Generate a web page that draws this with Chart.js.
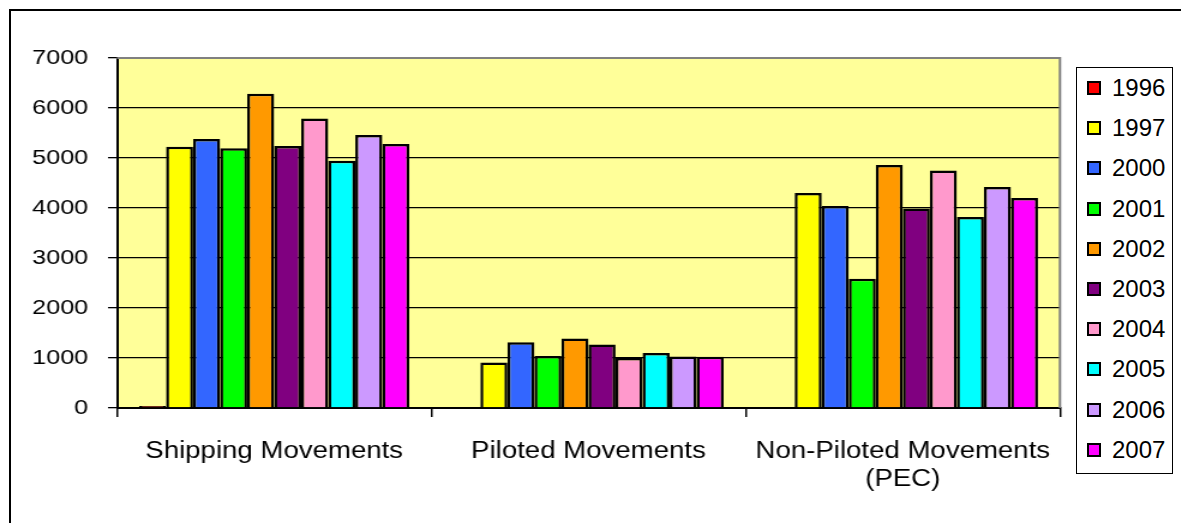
<!DOCTYPE html>
<html>
<head>
<meta charset="utf-8">
<script src="https://cdn.jsdelivr.net/npm/chart.js@4/dist/chart.umd.min.js"></script>
<style>
  body { margin: 0; background: #fff; overflow: hidden; font-family: "Liberation Sans", Arial, sans-serif; }
  #frame { position: absolute; left: 9px; top: 9px; width: 1300px; height: 700px; border: 2px solid #000; }
  #wrap { position: absolute; left: 0; top: 0; width: 984px; height: 523px; transform: scaleX(1.2); transform-origin: 0 0; }
  #legend { position: absolute; left: 1076px; top: 67px; width: 95px; height: 405px; border: 1px solid #000; background: #fff; }
  .item { position: absolute; left: 10px; height: 24px; line-height: 24px; font-size: 24px; color: #000; }
  .sw { display: inline-block; width: 10px; height: 10px; border: 2px solid #000; margin-right: 11px; vertical-align: 1px; }
</style>
</head>
<body>
<div id="frame"></div>
<div id="wrap"><canvas id="movesChart"></canvas></div>
<div id="legend"></div>
<script>
const categories = ['Shipping Movements', 'Piloted Movements', ['Non-Piloted Movements', '(PEC)']];
const years = ['1996', '1997', '2000', '2001', '2002', '2003', '2004', '2005', '2006', '2007'];
const colors = ['#ff0000', '#ffff00', '#3366ff', '#00ff00', '#ff9900', '#800080', '#ff99cc', '#00ffff', '#cc99ff', '#ff00ff'];

const shipping = [40, 5225, 5380, 5195, 6285, 5240, 5790, 4945, 5460, 5280];
const piloted = [0, 910, 1315, 1040, 1390, 1270, 1000, 1100, 1030, 1025];
const nonPiloted = [0, 4300, 4040, 2585, 4860, 3990, 4750, 3820, 4420, 4200];

const yTicks = [0, 1000, 2000, 3000, 4000, 5000, 6000, 7000];

const datasets = years.map((yr, i) => ({
  label: yr,
  data: [shipping[i], piloted[i], nonPiloted[i]],
  backgroundColor: colors[i],
  borderColor: '#000',
  borderWidth: 2.5,
  borderSkipped: 'bottom',
  categoryPercentage: 0.86,
  barPercentage: 1
}));

const plotDecor = {
  id: 'plotDecor',
  beforeDraw(chart) {
    const a = chart.chartArea, ctx = chart.ctx;
    ctx.save();
    ctx.fillStyle = '#ffff99';
    ctx.fillRect(a.left, a.top, a.right - a.left, a.bottom - a.top);
    ctx.restore();
  },
  afterDraw(chart) {
    const a = chart.chartArea, ctx = chart.ctx;
    ctx.save();
    ctx.strokeStyle = '#808080';
    ctx.lineWidth = 2;
    ctx.beginPath();
    ctx.moveTo(a.left, a.top);
    ctx.lineTo(a.right, a.top);
    ctx.lineTo(a.right, a.bottom);
    ctx.stroke();
    ctx.restore();
  }
};

Chart.defaults.font.family = '"Liberation Sans", Arial, sans-serif';
Chart.defaults.color = '#000';

new Chart(document.getElementById('movesChart'), {
  type: 'bar',
  data: { labels: categories, datasets: datasets },
  options: {
    responsive: true,
    maintainAspectRatio: false,
    animation: false,
    layout: { padding: { top: 58, right: 100.7, bottom: 0, left: 0 } },
    plugins: { legend: { display: false }, tooltip: { enabled: false } },
    scales: {
      x: {
        afterFit(s) { s.height = 115; },
        border: { color: '#000', width: 2 },
        grid: { display: true, drawOnChartArea: false, offset: true, color: '#000', lineWidth: 1.5, tickLength: 9 },
        ticks: { font: { size: 23 }, padding: 21, maxRotation: 0, autoSkip: false }
      },
      y: {
        min: 0,
        max: 7000,
        afterFit(s) { s.width = 97.5; },
        afterBuildTicks(s) { s.ticks = yTicks.map(v => ({ value: v })); },
        border: { color: '#000', width: 2 },
        grid: { color: '#000', lineWidth: 1.3, tickLength: 7.5 },
        ticks: { font: { size: 21 }, padding: 16.5, callback: v => String(v) }
      }
    }
  },
  plugins: [plotDecor]
});

const legendBox = document.getElementById('legend');
years.forEach((yr, i) => {
  const d = document.createElement('div');
  d.className = 'item';
  d.style.top = (8 + i * 40.2) + 'px';
  d.innerHTML = '<span class="sw" style="background:' + colors[i] + '"></span>' + yr;
  legendBox.appendChild(d);
});
</script>
</body>
</html>
